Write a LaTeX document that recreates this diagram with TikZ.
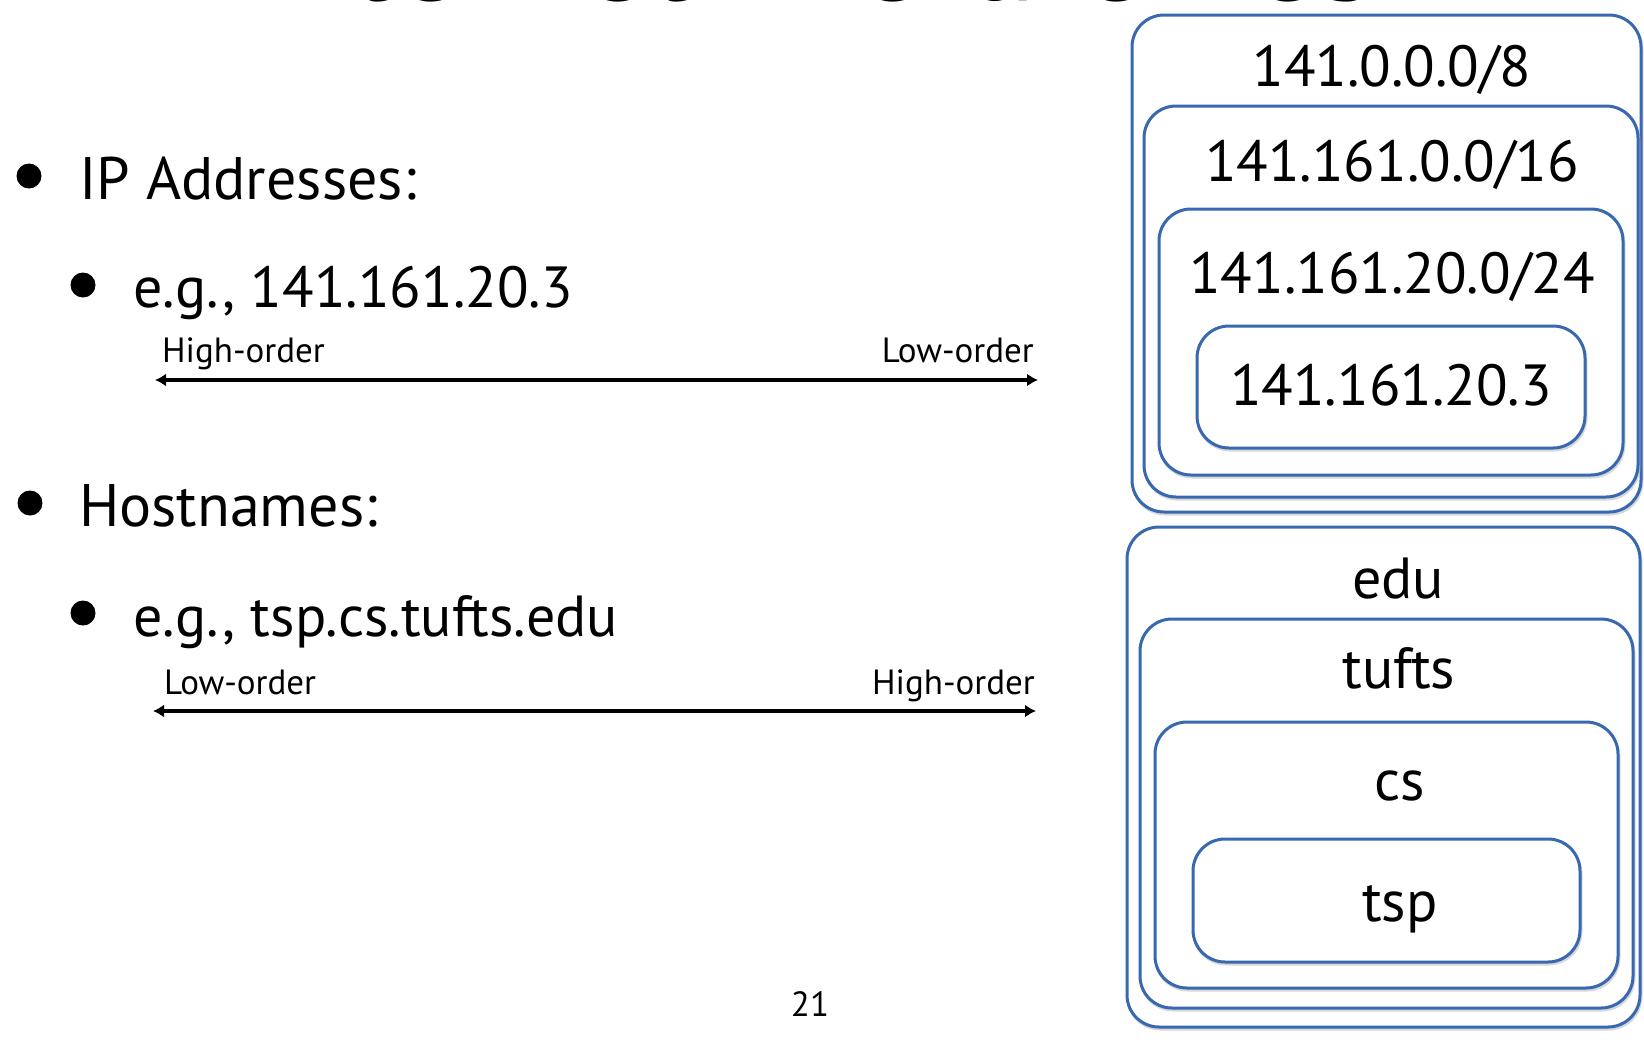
\documentclass[tikz,border=0pt]{standalone}
\usepackage{fontspec}
\setmainfont{PT Sans}
\usetikzlibrary{arrows.meta}
\definecolor{boxblue}{RGB}{56,104,176}
\tikzset{
  nest/.style={draw=boxblue, line width=3pt, fill=white, rounded corners=32pt},
  shade/.style={draw=black!30, line width=3pt, rounded corners=32pt, opacity=0.5},
  big/.style={anchor=base, inner sep=0pt, font=\fontsize{60}{60}\selectfont},
  mid/.style={anchor=base, inner sep=0pt, font=\fontsize{58}{58}\selectfont},
  small/.style={anchor=base, inner sep=0pt, font=\fontsize{35}{35}\selectfont},
  boxtext/.style={anchor=base, inner sep=0pt, font=\fontsize{58}{58}\selectfont},
  dot/.style={circle, fill=black, inner sep=0pt, minimum size=25pt},
  orderline/.style={line width=4.5pt, {Latex[length=11pt,width=13pt]}-{Latex[length=11pt,width=13pt]}}
}
\begin{document}
\begin{tikzpicture}[x=1pt,y=-1pt]
\useasboundingbox (0,0) rectangle (1644,1044);
\begin{scope}
\clip (0,0) rectangle (1644,1044);
\node[anchor=base, inner sep=0pt, font=\fontsize{134}{134}\selectfont] (title) at (807,1) {Internet Hierarchies};
\end{scope}

% left column
\node[dot] (b1) at (29,176) {};
\node[big, anchor=base west] (ip) at (79,199) {IP Addresses:};
\node[dot] (b2) at (83,285) {};
\node[mid, anchor=base west] (ipex) at (133,307) {e.g., 141.161.20.3};
\node[small, anchor=base west] (hi1) at (162,362) {High-order};
\node[small, anchor=base east] (lo1) at (1034,362) {Low-order};
\coordinate (a1l) at (155,380);
\coordinate (a1r) at (1038,380);
\draw[orderline] (a1l) -- (a1r);

\node[dot] (b3) at (30,503) {};
\node[big, anchor=base west] (hn) at (79,526) {Hostnames:};
\node[dot] (b4) at (83,613) {};
\node[mid, anchor=base west] (hnex) at (133,636) {e.g., tsp.cs.tufts.edu};
\node[small, anchor=base west] (lo2) at (164,694) {Low-order};
\node[small, anchor=base east] (hi2) at (1035,694) {High-order};
\coordinate (a2l) at (153,711);
\coordinate (a2r) at (1036,711);
\draw[orderline] (a2l) -- (a2r);

\node[small] (page) at (810,1016) {21};

% IP nesting
\draw[shade] (1133,18) rectangle (1642,514);
\draw[nest] (1132,15) rectangle (1641,512);
\draw[shade] (1145,109) rectangle (1639,499);
\draw[nest] (1144,106) rectangle (1638,497);
\draw[shade] (1160,212) rectangle (1624,477);
\draw[nest] (1159,209) rectangle (1623,475);
\draw[shade] (1198,329) rectangle (1586,450);
\draw[nest] (1197,326) rectangle (1585,448);
\node[boxtext] (n8) at (1392,86) {141.0.0.0/8};
\node[boxtext] (n16) at (1392,181) {141.161.0.0/16};
\node[boxtext] (n24) at (1392,293) {141.161.20.0/24};
\node[boxtext] (nh) at (1391,405) {141.161.20.3};

% DNS nesting
\draw[shade] (1128,530) rectangle (1641,1029);
\draw[nest] (1127,527) rectangle (1640,1027);
\draw[shade] (1141,622) rectangle (1634,1010);
\draw[nest] (1140,619) rectangle (1633,1008);
\draw[shade] (1156,725) rectangle (1619,990);
\draw[nest] (1155,722) rectangle (1618,988);
\draw[shade] (1194,842) rectangle (1581,964);
\draw[nest] (1193,839) rectangle (1580,962);
\node[boxtext] (edu) at (1398,598) {edu};
\node[boxtext] (tufts) at (1399,688) {tufts};
\node[boxtext] (cs) at (1400,800) {cs};
\node[boxtext] (tsp) at (1400,921) {tsp};
\end{tikzpicture}
\end{document}
